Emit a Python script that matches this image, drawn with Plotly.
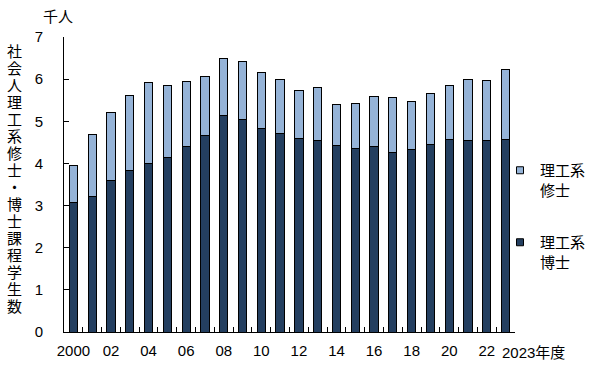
import plotly.graph_objects as go

years = [str(y) for y in range(2000, 2024)]
tick_text = ["2000", "", "02", "", "04", "", "06", "", "08", "", "10", "", "12", "",
             "14", "", "16", "", "18", "", "20", "", "22", ""]
last_label = "2023年度"
doctor = [3.07, 3.21, 3.59, 3.83, 3.99, 4.14, 4.40, 4.66, 5.13, 5.04, 4.84, 4.70,
          4.60, 4.55, 4.42, 4.35, 4.39, 4.26, 4.32, 4.44, 4.56, 4.54, 4.54, 4.57]
total = [3.96, 4.68, 5.21, 5.61, 5.92, 5.86, 5.94, 6.06, 6.49, 6.41, 6.15, 5.99,
         5.74, 5.80, 5.39, 5.43, 5.58, 5.57, 5.48, 5.65, 5.85, 5.99, 5.97, 6.22]
master = [round(t - d, 2) for t, d in zip(total, doctor)]

y_title = "社会人理工系修士・博士課程学生数"
unit = "千人"
NAVY = "#243F60"
LIGHT = "#95B3D7"
FONT = "Liberation Sans, Arial, Noto Sans CJK JP"
CJK = "Noto Sans CJK JP"

# plot area in pixels: x 64..515, y 37..332
PT, PB, PL, PR = 37, 332, 64, 515
PH = PB - PT
PW = PR - PL

fig = go.Figure()
fig.add_trace(go.Bar(x=years, y=doctor, name="理工系<br>博士", showlegend=False,
                     marker=dict(color=NAVY, line=dict(color="#000000", width=1))))
fig.add_trace(go.Bar(x=years, y=master, name="理工系<br>修士", showlegend=False,
                     marker=dict(color=LIGHT, line=dict(color="#000000", width=1))))
# legend entries (small square swatches like the reference)
fig.add_trace(go.Scatter(x=[years[0]], y=[None], mode="markers", name="理工系<br>修士",
                         legendgroup="a", hoverinfo="skip",
                         marker=dict(symbol="square", size=7, color=LIGHT,
                                     line=dict(color="#000000", width=1))))
fig.add_trace(go.Scatter(x=[years[0]], y=[None], mode="markers", name="理工系<br>博士",
                         legendgroup="b", hoverinfo="skip",
                         marker=dict(symbol="square", size=7, color=NAVY,
                                     line=dict(color="#000000", width=1))))

annotations = [
    dict(text=unit, xref="paper", yref="paper", x=(58 - PL) / PW, y=(PB - 15) / PH,
         xanchor="center", yanchor="middle", showarrow=False,
         font=dict(size=15, family=CJK)),
    dict(text=last_label, xref="x", yref="paper", x=len(years) - 1, xshift=-6,
         y=(PB - 352) / PH, xanchor="left", yanchor="middle", showarrow=False,
         font=dict(size=15, family=FONT)),
]
for i, ch in enumerate(y_title):
    py = 50.5 + 17 * i
    annotations.append(dict(text=ch, xref="paper", yref="paper",
                            x=(14.5 - PL) / PW, y=(PB - py) / PH,
                            xanchor="center", yanchor="middle", showarrow=False,
                            font=dict(size=15, family=CJK)))

fig.update_layout(
    width=600, height=369,
    margin=dict(l=PL, r=600 - PR, t=PT, b=369 - PB, autoexpand=False),
    paper_bgcolor="white", plot_bgcolor="white",
    barmode="stack", bargap=0.56,
    font=dict(family=FONT, size=15, color="#000000"),
    showlegend=True,
    legend=dict(x=(500 - PL) / PW, xanchor="left", y=(PB - 154) / PH, yanchor="top",
                traceorder="grouped", tracegroupgap=30, valign="top",
                font=dict(size=15, family=CJK),
                itemwidth=30, bgcolor="rgba(0,0,0,0)"),
    xaxis=dict(type="category", categoryorder="array", categoryarray=years,
               range=[-0.5, len(years) - 0.5],
               tickmode="array", tickvals=years, ticktext=tick_text,
               tickson="boundaries", ticks="inside", ticklen=5, tickcolor="#000",
               showline=True, linecolor="#000", linewidth=1, showgrid=False,
               tickangle=0, automargin=False, ticklabelstandoff=5,
               tickfont=dict(size=15)),
    yaxis=dict(range=[0, 7], dtick=1, ticks="inside", ticklen=5, tickcolor="#000",
               showline=True, linecolor="#000", linewidth=1, showgrid=False,
               zeroline=False, ticklabelstandoff=17, automargin=False,
               tickfont=dict(size=15)),
    annotations=annotations,
)

fig.write_html("out.html", config={"displayModeBar": False},
               post_script="document.body.style.margin='0';")
